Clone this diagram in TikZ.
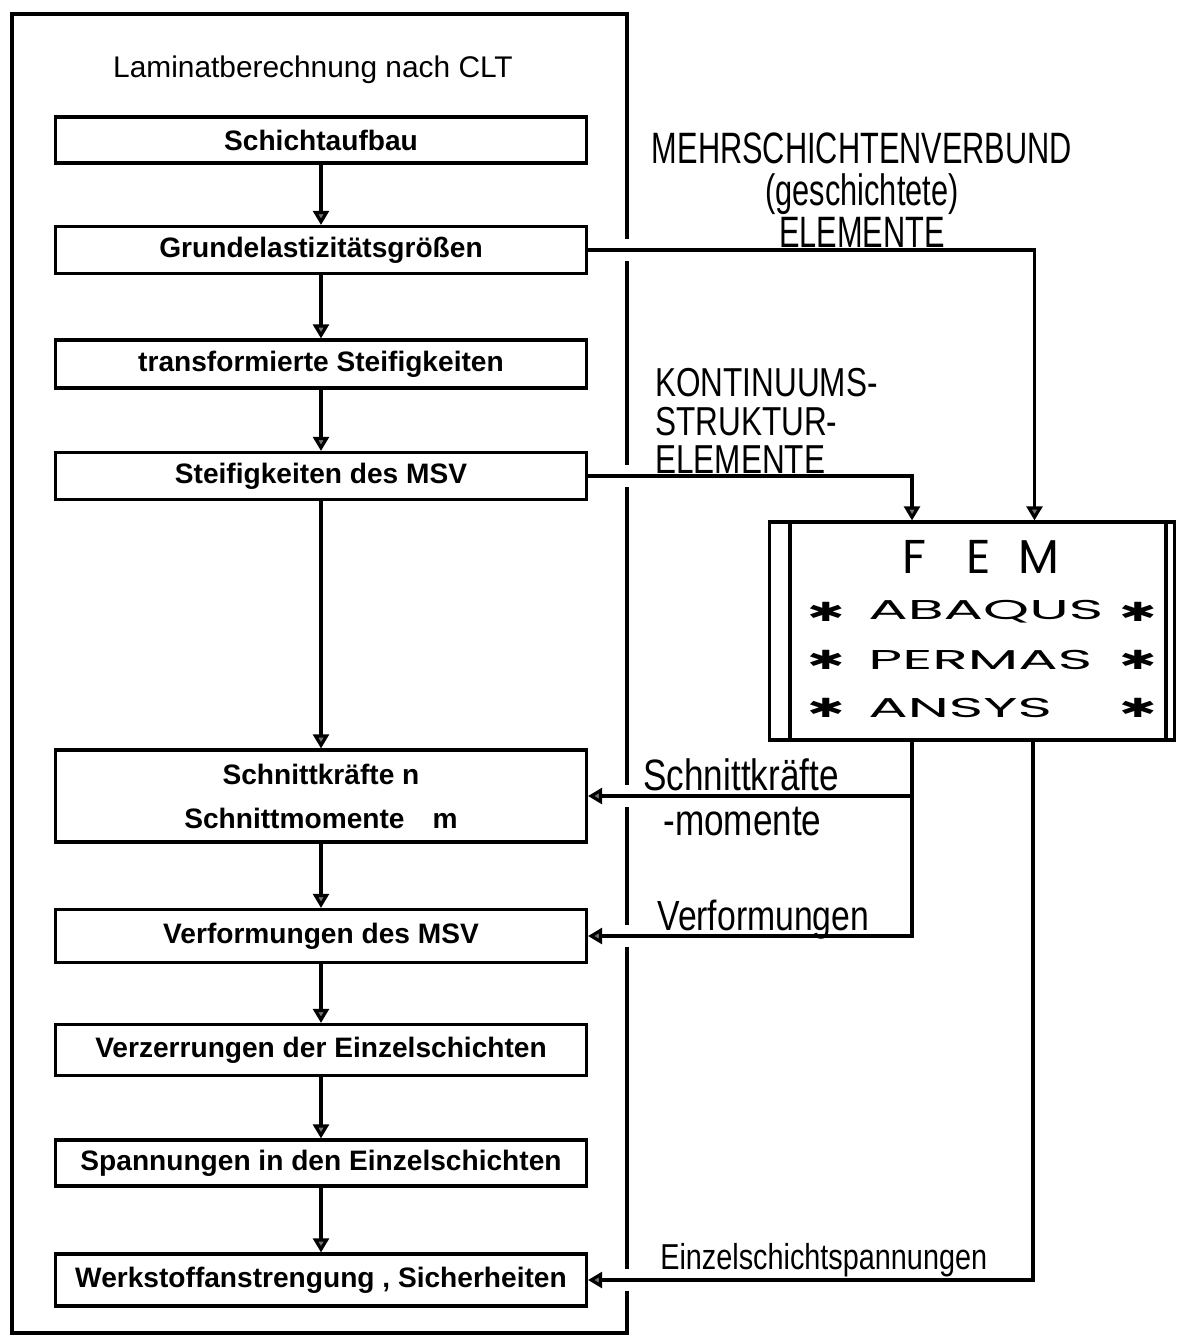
\documentclass[tikz,border=0pt]{standalone}
\usepackage{fontspec}
\setmainfont{Liberation Sans}
\newfontfamily\capsfont[FakeStretch=0.7]{Liberation Sans}
\newfontfamily\kontfont[FakeStretch=0.78]{Liberation Sans}
\newfontfamily\condfont[FakeStretch=0.8]{Liberation Sans}
\newfontfamily\femfont{Poppins}
\newfontfamily\widefont[FakeStretch=2.15]{Poppins}
\newfontfamily\symfont[FakeStretch=1.7]{DejaVu Sans}
\usetikzlibrary{calc,arrows.meta}

\tikzset{
	stepbox/.style={draw, line width=1.8pt, minimum width=10.62cm, inner sep=0pt, font=\fontsize{16}{19}\selectfont\bfseries},
	flow/.style={line width=1.8pt, -{Triangle[width=9pt,length=8pt,fill=black!55]}},
	tag/.style={anchor=west, inner sep=0pt, align=left},
	progname/.style={anchor=west, inner sep=0pt, font=\widefont\fontsize{15.5}{16}\selectfont},
	astx/.style={inner sep=0pt, font=\symfont\bfseries\fontsize{15}{15}\selectfont},
}

\begin{document}
\begin{tikzpicture}[x=0.02cm,y=-0.02cm]
			\useasboundingbox (0,0) rectangle (1177,1338);
			%%%%% START %%%%%
			
			\draw[line width=1.8pt] (12,14) rectangle (627,1333);
			\coordinate (fr) at (627,0);
			\node[font=\fontsize{17}{20}\selectfont] (title) at (313,70) {Laminatberechnung nach CLT};
			
			\node[stepbox, minimum height=0.92cm] (schicht) at (321,140) {Schichtaufbau};
			\node[stepbox, minimum height=0.94cm] (grund) at (321,250) {Grundelastizitätsgrößen};
			\node[stepbox, minimum height=0.96cm] (trans) at (321,364) {transformierte Steifigkeiten};
			\node[stepbox, minimum height=0.94cm] (steif) at (321,476) {Steifigkeiten des MSV};
			\node[stepbox, minimum height=1.84cm, align=center, font=\fontsize{16}{25}\selectfont\bfseries] (schnitt) at (321,796) {Schnittkräfte n\\Schnittmomente\quad m};
			\node[stepbox, minimum height=1.06cm] (verf) at (321,936) {Verformungen des MSV};
			\node[stepbox, minimum height=1.02cm] (verz) at (321,1050) {Verzerrungen der Einzelschichten};
			\node[stepbox, minimum height=0.92cm] (spann) at (321,1163) {Spannungen in den Einzelschichten};
			\node[stepbox, minimum height=1.04cm] (werk) at (321,1280) {Werkstoffanstrengung , Sicherheiten};
			
			% FEM block
			\node[draw, line width=1.8pt, minimum width=8.1cm, minimum height=4.36cm, inner sep=0pt] (fem) at (972,631) {};
			\draw[line width=1.8pt] ($(fem.north west)+(0.44cm,0)$) -- ($(fem.south west)+(0.44cm,0)$);
			\draw[line width=1.8pt] ($(fem.north east)+(-0.2cm,0)$) -- ($(fem.south east)+(-0.2cm,0)$);
			\node[font=\femfont\fontsize{27}{27}\selectfont] (femtitle) at (981,557) {F\hspace{0.8cm}E\hspace{0.55cm}M};
			\node[progname] (abaqus) at (868,612) {ABAQUS};
			\node[progname] (permas) at (868,660) {PERMAS};
			\node[progname] (ansys) at (868,708) {ANSYS};
			\foreach \y in {612,660,708} {
				\node[astx] at (826,\y) {✱};
				\node[astx] at (1138,\y) {✱};
			}
			
			% labels on the right
			\node[align=center, inner sep=0pt, font=\capsfont\fontsize{25}{24}\selectfont] (mehr) at (862,190) {MEHRSCHICHTENVERBUND\\(geschichtete)\\ELEMENTE};
			\node[tag, font=\kontfont\fontsize{23}{22}\selectfont] (kont) at (655,421) {KONTINUUMS-\\STRUKTUR-\\ELEMENTE};
			\node[tag, font=\condfont\fontsize{25}{25.6}\selectfont] (kraft) at (643,797) {Schnittkräfte\\\hspace*{0.4cm}-momente};
			\node[tag, font=\condfont\fontsize{24}{24}\selectfont] (vlab) at (657,920) {Verformungen};
			\node[tag, font=\condfont\fontsize{20.5}{21}\selectfont] (elab) at (660,1260) {Einzelschichtspannungen};
			
			% gaps in the frame
			\foreach \n in {grund,steif,schnitt,verf,werk}
				\fill[white] ($(fr |- \n.east)+(-5pt,-6pt)$) rectangle ++(10pt,12pt);
			
			\draw[flow] (schicht) -- (grund);
			\draw[flow] (grund) -- (trans);
			\draw[flow] (trans) -- (steif);
			\draw[flow] (steif) -- (schnitt);
			\draw[flow] (schnitt) -- (verf);
			\draw[flow] (verf) -- (verz);
			\draw[flow] (verz) -- (spann);
			\draw[flow] (spann) -- (werk);
			
			\draw[flow] (grund.east) -| ([xshift=1.25cm]fem.north);
			\draw[flow] (steif.east) -| ([xshift=-1.2cm]fem.north);
			\draw[flow] ([xshift=-1.2cm]fem.south) |- (schnitt.east);
			\draw[flow] ([xshift=-1.2cm]fem.south) |- (verf.east);
			\draw[flow] ([xshift=1.22cm]fem.south) |- (werk.east);
			
			%%%%% END %%%%%
\end{tikzpicture}
\end{document}
